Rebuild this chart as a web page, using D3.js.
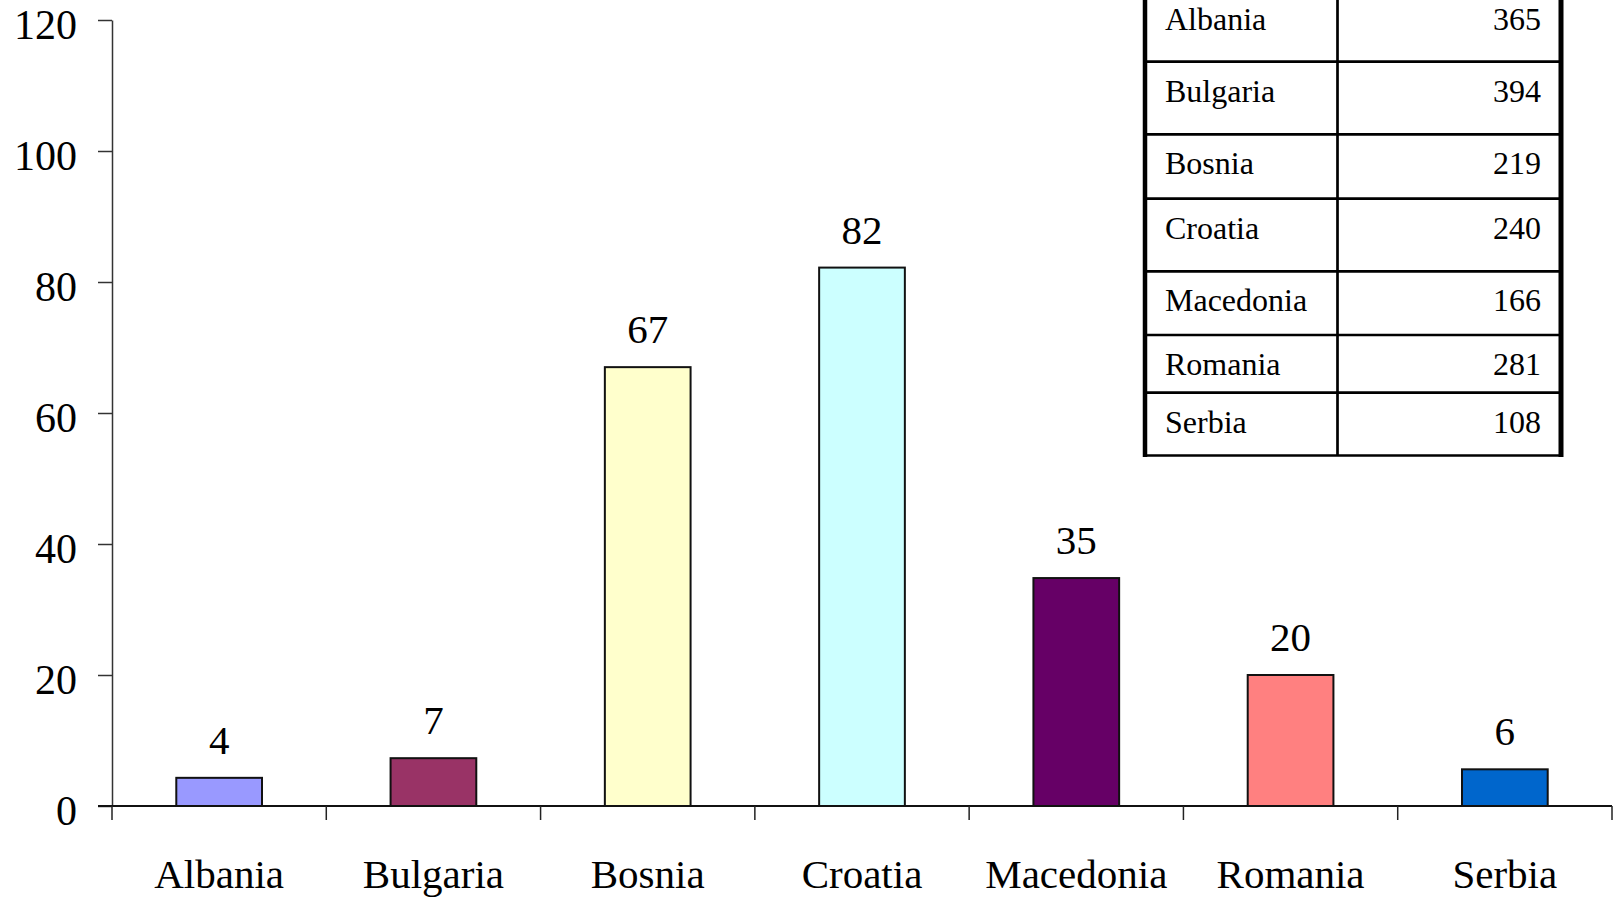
<!DOCTYPE html>
<html>
<head>
<meta charset="utf-8">
<script src="https://cdn.jsdelivr.net/npm/d3@7"></script>
<style>
  body { margin: 0; background: #fff; }
  svg { display: block; font-family: "Liberation Serif", "Times New Roman", serif; }
</style>
</head>
<body>
<svg width="1614" height="897"></svg>
<script>
var svg = d3.select("svg");

// chart data
var countries = ["Albania", "Bulgaria", "Bosnia", "Croatia", "Macedonia", "Romania", "Serbia"];
var values = [4.3, 7.3, 67, 82.2, 34.8, 20, 5.6];
var barColors = ["#9999ff", "#993366", "#ffffcc", "#ccffff", "#660066", "#ff8080", "#0066cc"];
var yTicks = [0, 20, 40, 60, 80, 100, 120];

// table data (top right)
var tableNames = ["Albania", "Bulgaria", "Bosnia", "Croatia", "Macedonia", "Romania", "Serbia"];
var tableValues = [365, 394, 219, 240, 166, 281, 108];

// layout (note: "top" is taken by window.top, so use plotTop)
var plotLeft = 112, plotRight = 1612, plotTop = 20, plotBottom = 806;

var x = d3.scaleBand()
    .domain(countries)
    .range([plotLeft, plotRight])
    .paddingInner(0.6)
    .paddingOuter(0.3);

// same bands without padding, for the tick marks between categories
var xb = d3.scaleBand().domain(countries).range([plotLeft, plotRight]);

var y = d3.scaleLinear().domain([0, 120]).range([plotBottom, plotTop]);

// y axis
var yAxis = svg.append("g")
    .attr("transform", "translate(" + plotLeft + ",0)")
    .call(d3.axisLeft(y).tickValues(yTicks).tickSize(14).tickPadding(21).tickSizeOuter(0));
yAxis.select(".domain").attr("stroke", "#333").attr("stroke-width", 1.5);
yAxis.selectAll(".tick line").attr("stroke", "#333").attr("stroke-width", 1.5);
yAxis.selectAll(".tick text")
    .attr("font-family", "Liberation Serif, Times New Roman, serif")
    .attr("font-size", 42)
    .attr("fill", "#000")
    .attr("dy", "18px");

// x axis line (extends a bit left of the y axis)
svg.append("line")
    .attr("x1", plotLeft - 14).attr("x2", plotRight)
    .attr("y1", plotBottom).attr("y2", plotBottom)
    .attr("stroke", "#111").attr("stroke-width", 2);

// ticks between categories
var bounds = countries.map(function(c) { return xb(c); }).concat([plotRight]);
svg.selectAll(".xtick")
    .data(bounds)
    .enter().append("line")
    .attr("class", "xtick")
    .attr("x1", function(d) { return d; }).attr("x2", function(d) { return d; })
    .attr("y1", plotBottom).attr("y2", plotBottom + 14)
    .attr("stroke", "#222").attr("stroke-width", 1.5);

// category labels
svg.selectAll(".xlab")
    .data(countries)
    .enter().append("text")
    .attr("class", "xlab")
    .attr("x", function(d) { return x(d) + x.bandwidth() / 2; })
    .attr("y", 888)
    .attr("text-anchor", "middle")
    .attr("font-size", 41)
    .text(function(d) { return d; });

// bars
svg.selectAll(".bar")
    .data(countries)
    .enter().append("rect")
    .attr("class", "bar")
    .attr("x", function(d) { return x(d); })
    .attr("width", x.bandwidth())
    .attr("y", function(d, i) { return y(values[i]); })
    .attr("height", function(d, i) { return plotBottom - y(values[i]); })
    .attr("fill", function(d, i) { return barColors[i]; })
    .attr("stroke", "#111")
    .attr("stroke-width", 2);

// value labels
svg.selectAll(".vlab")
    .data(countries)
    .enter().append("text")
    .attr("class", "vlab")
    .attr("x", function(d) { return x(d) + x.bandwidth() / 2; })
    .attr("y", function(d, i) { return y(values[i]) - 24; })
    .attr("text-anchor", "middle")
    .attr("font-size", 41)
    .text(function(d, i) { return Math.round(values[i]); });

// table, row edges are layout only
var rowEdges = [-10, 61.7, 134.3, 198.7, 271.3, 335, 392.7, 455.5];
var tLeft = 1145, tMid = 1337.5, tRight = 1561;

var t = svg.append("g").attr("class", "table");

t.selectAll(".hline")
    .data(rowEdges)
    .enter().append("line")
    .attr("x1", tLeft).attr("x2", tRight)
    .attr("y1", function(d) { return d; }).attr("y2", function(d) { return d; })
    .attr("stroke", "#000").attr("stroke-width", 2.7);

t.append("line")
    .attr("x1", tMid).attr("x2", tMid)
    .attr("y1", rowEdges[0]).attr("y2", rowEdges[rowEdges.length - 1])
    .attr("stroke", "#000").attr("stroke-width", 2.7);

// heavier outer sides
t.append("line")
    .attr("x1", tLeft).attr("x2", tLeft)
    .attr("y1", rowEdges[0]).attr("y2", rowEdges[rowEdges.length - 1] + 1.5)
    .attr("stroke", "#000").attr("stroke-width", 4.5);
t.append("line")
    .attr("x1", tRight).attr("x2", tRight)
    .attr("y1", rowEdges[0]).attr("y2", rowEdges[rowEdges.length - 1] + 1.5)
    .attr("stroke", "#000").attr("stroke-width", 5);

t.selectAll(".tname")
    .data(tableNames)
    .enter().append("text")
    .attr("x", 1165)
    .attr("y", function(d, i) { return rowEdges[i] + 40; })
    .attr("font-size", 32)
    .text(function(d) { return d; });

t.selectAll(".tval")
    .data(tableValues)
    .enter().append("text")
    .attr("x", 1541)
    .attr("y", function(d, i) { return rowEdges[i] + 40; })
    .attr("text-anchor", "end")
    .attr("font-size", 32)
    .text(function(d) { return d; });
</script>
</body>
</html>
